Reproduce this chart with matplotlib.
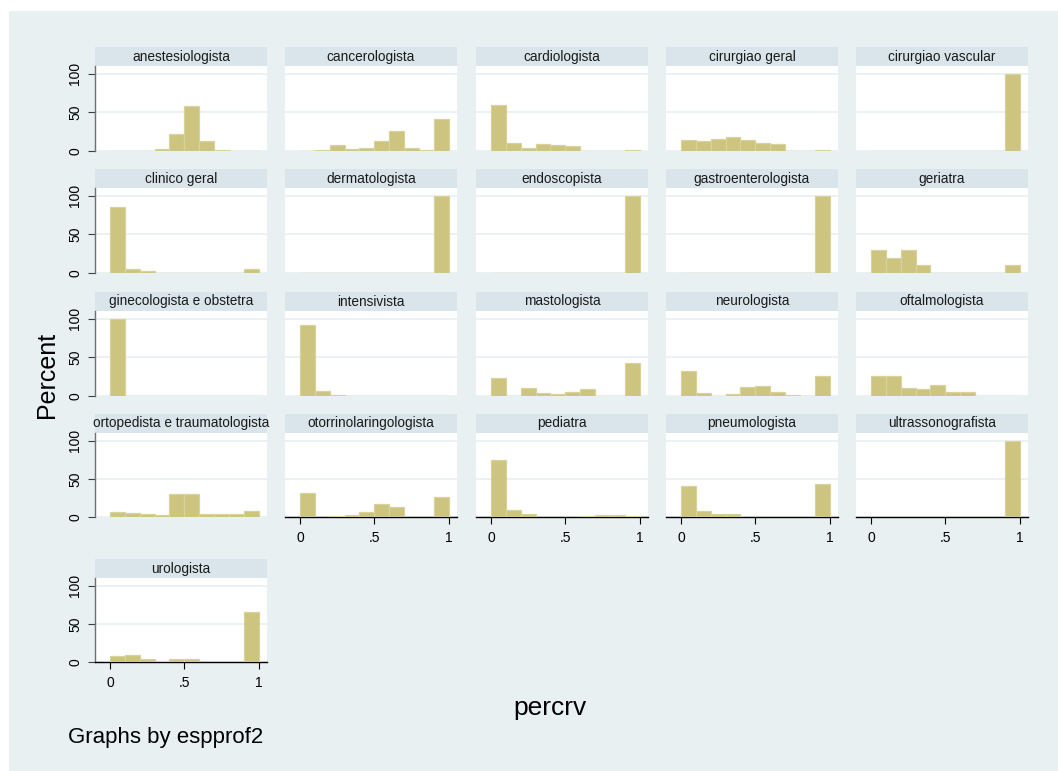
import matplotlib
matplotlib.use("Agg")
import matplotlib.pyplot as plt

# histogramas de percrv por espprof2 (percentual por faixa de 0.1)
bin_left = [0.0, 0.1, 0.2, 0.3, 0.4, 0.5, 0.6, 0.7, 0.8, 0.9]

anestesiologista = [0, 0, 0.5, 3, 22.5, 58.5, 12.5, 1.2, 0, 0]
cancerologista = [0, 1, 7.5, 2.5, 3.5, 12.5, 25.5, 3.5, 1, 41]
cardiologista = [59.5, 10, 3.5, 9.5, 7.5, 6, 0, 0, 0, 1]
cirurgiao_geral = [14, 12.5, 16, 17.5, 14.5, 11, 9.5, 0.5, 0, 1]
cirurgiao_vascular = [0, 0, 0, 0, 0, 0, 0, 0, 0, 100]
clinico_geral = [85, 5, 2.5, 0.5, 0.5, 0, 0, 0, 0, 5]
dermatologista = [0, 0, 0, 0, 0, 0, 0, 0, 0, 100]
endoscopista = [0, 0, 0, 0, 0, 0, 0, 0, 0, 100]
gastroenterologista = [0, 0, 0, 0, 0, 0, 0, 0, 0, 100]
geriatra = [30, 20, 30, 10, 0, 0, 0, 0, 0, 10]
ginecologista = [100, 0, 0, 0, 0, 0, 0, 0, 0, 0]
intensivista = [92, 6.5, 1, 0, 0, 0, 0, 0, 0, 0]
mastologista = [23.5, 0, 10.5, 4, 2.5, 5, 9, 0, 0, 43]
neurologista = [32.5, 4, 0.5, 2.5, 11.5, 13, 5.5, 1.3, 0, 26]
oftalmologista = [26, 26, 10.5, 8.5, 14, 5, 5, 0, 0, 0]
ortopedista = [7, 5, 4, 2.5, 30, 30, 4.5, 3.5, 3.5, 8.5]
otorrino = [31, 0, 1.5, 3, 7, 16.5, 13.5, 0, 0, 26]
pediatra = [74, 9.5, 4, 0, 0, 0, 1.5, 3, 3, 1.5]
pneumologista = [40, 8, 4.3, 4.3, 0, 0, 0, 0, 0, 43]
ultrassonografista = [0, 0, 0, 0, 0, 0, 0, 0, 0, 100]
urologista = [8, 9.5, 4.3, 1.5, 4.3, 4.3, 0, 0, 0, 65]

labels = ["anestesiologista", "cancerologista", "cardiologista", "cirurgiao geral",
          "cirurgiao vascular", "clinico geral", "dermatologista", "endoscopista",
          "gastroenterologista", "geriatra", "ginecologista e obstetra", "intensivista",
          "mastologista", "neurologista", "oftalmologista",
          "ortopedista e traumatologista", "otorrinolaringologista", "pediatra",
          "pneumologista", "ultrassonografista", "urologista"]
series = [anestesiologista, cancerologista, cardiologista, cirurgiao_geral,
          cirurgiao_vascular, clinico_geral, dermatologista, endoscopista,
          gastroenterologista, geriatra, ginecologista, intensivista, mastologista,
          neurologista, oftalmologista, ortopedista, otorrino, pediatra,
          pneumologista, ultrassonografista, urologista]

plt.rcParams["font.family"] = ["Liberation Sans", "DejaVu Sans"]

W, H = 1058, 771
BG = "#e8f0f2"
STRIP = "#d9e5ea"
BAR = "#ccc47f"
BAR_EDGE = "#d8d29c"
GRID = "#e8f0f2"

fig = plt.figure(figsize=(W / 100, H / 100), dpi=100)
fig.patch.set_facecolor("white")
# fundo azulado (margem branca a esquerda e em cima)
fig.add_artist(plt.Rectangle((9 / W, 0), 1, 1 - 11 / H, transform=fig.transFigure,
                             facecolor=BG, edgecolor="none", zorder=-10))

col_x = [95, 285, 476, 666, 856]
row_y = [(47, 66, 151), (169, 188, 273), (292, 311, 396), (414, 433, 517), (559, 578, 662)]
pw = 172


def fc(x, y, w, h):
    return [x / W, 1 - (y + h) / H, w / W, h / H]


n = len(labels)
for i in range(n):
    r, c = divmod(i, 5)
    st, pt, pb = row_y[r]
    x0 = col_x[c]

    sax = fig.add_axes(fc(x0, st, pw, pt - st))
    sax.set_facecolor(STRIP)
    sax.set_xticks([])
    sax.set_yticks([])
    for sp in sax.spines.values():
        sp.set_visible(False)
    sax.text(0.5, 0.5, labels[i], ha="center", va="center", fontsize=9.8,
             transform=sax.transAxes, color="#1a1a1a")

    ax = fig.add_axes(fc(x0, pt, pw, pb - pt))
    ax.set_facecolor("white")
    ax.bar(bin_left, series[i], width=0.1, align="edge", color=BAR,
           edgecolor=BAR_EDGE, linewidth=0.9, zorder=3)
    ax.set_xlim(-0.1, 1.055)
    ax.set_ylim(0, 110)
    ax.set_yticks([0, 50, 100])
    ax.grid(axis="y", color=GRID, linewidth=1.2, zorder=0)
    ax.set_xticks([0, 0.5, 1])
    for sp in ax.spines.values():
        sp.set_visible(False)

    bottom = (r == 3 and c > 0) or r == 4
    if bottom:
        ax.spines["bottom"].set_visible(True)
        ax.spines["bottom"].set_color("black")
        ax.spines["bottom"].set_linewidth(1.0)
        ax.set_xticklabels(["0", ".5", "1"], fontsize=10)
        ax.tick_params(axis="x", length=5, width=0.8, color="black", pad=5)
    else:
        ax.tick_params(axis="x", length=0, labelbottom=False)

    if c == 0:
        ax.spines["left"].set_visible(True)
        ax.spines["left"].set_color("#707070")
        ax.spines["left"].set_linewidth(1.0)
        ax.set_yticklabels(["0", "50", "100"], fontsize=10, rotation=90, va="center")
        ax.tick_params(axis="y", length=5, width=0.8, color="#404040", pad=4)
    else:
        ax.tick_params(axis="y", length=0, labelleft=False)

fig.text(47 / W, 1 - 375 / H, "Percent", rotation=90, ha="center", va="center", fontsize=18)
fig.text(550 / W, 1 - 708 / H, "percrv", ha="center", va="center", fontsize=19)
fig.text(68 / W, 1 - 737 / H, "Graphs by espprof2", ha="left", va="center", fontsize=16)

fig.savefig("out.png", dpi=100, facecolor=fig.get_facecolor())
